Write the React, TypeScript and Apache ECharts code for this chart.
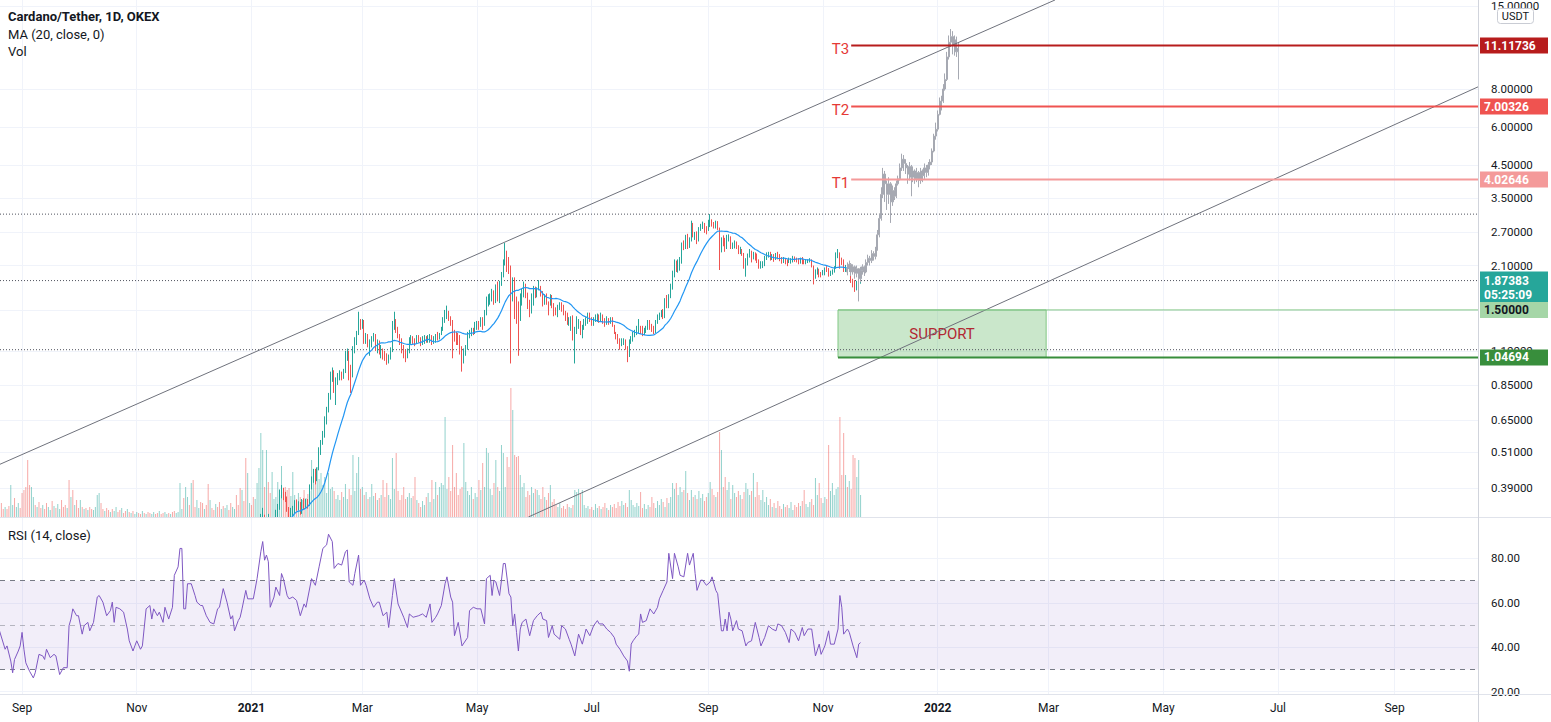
import { useEffect, useRef } from "react";
import * as echarts from "echarts";

// ---------- time frame (day index 0 = 2020-08-20) ----------
const START = Date.UTC(2020, 7, 20);
const DAY = 86400000;
const AXIS_FIRST_DAY = 0.27;
const AXIS_LAST_DAY = 786.4;
const CANDLE_START = 134; // 2021-01-01
const PRICE_BOTTOM = 0.3125;
const PRICE_TOP = 15.7;
const RSI_BOTTOM = 18.5;
const RSI_TOP = 98.2;
const VOLUME_AXIS_MAX = 517;

// ---------- OHLC (daily, 2021-01-01 .. 2021-11-21), open = previous close ----------
const firstOpen = 0.184;
const closes = [
  0.181,0.175,0.205,0.225,0.258,0.309,0.316,0.299,0.306,0.295,0.261,0.282,0.306,0.325,0.339,0.376,0.380,0.371,0.360,0.333,0.297,0.327,0.330,0.349,0.335,0.348,0.325,0.352,0.344,0.350,0.345,
  0.392,0.415,0.440,0.425,0.445,0.510,0.545,0.580,0.650,0.700,0.770,0.900,0.935,0.860,0.870,0.900,0.930,0.905,0.940,1.060,1.100,0.960,0.930,1.120,1.190,1.260,1.380,1.330,
  1.370,1.190,1.230,1.150,1.170,1.200,1.240,1.120,1.180,1.100,1.110,1.070,1.060,1.040,1.050,1.100,1.350,1.390,1.300,1.240,1.190,1.120,1.080,1.070,1.100,1.200,1.210,1.190,1.180,1.220,1.200,
  1.180,1.190,1.210,1.200,1.210,1.220,1.180,1.200,1.230,1.220,1.250,1.290,1.380,1.450,1.470,1.420,1.370,1.270,1.240,1.210,1.200,1.110,1.060,1.090,1.130,1.250,1.260,1.280,1.270,1.350,
  1.350,1.330,1.390,1.350,1.460,1.610,1.610,1.640,1.710,1.590,1.780,1.690,1.820,1.950,2.150,2.300,2.080,2.060,1.660,1.850,1.560,1.550,1.400,1.620,1.680,1.790,1.690,1.540,1.510,1.610,1.770,
  1.710,1.750,1.790,1.690,1.590,1.650,1.590,1.580,1.660,1.540,1.500,1.490,1.530,1.550,1.530,1.460,1.440,1.380,1.380,1.410,1.210,1.290,1.360,1.360,1.260,1.320,1.370,1.390,1.450,1.390,
  1.370,1.400,1.410,1.440,1.390,1.430,1.390,1.360,1.390,1.370,1.400,1.330,1.260,1.230,1.180,1.160,1.180,1.180,1.130,1.060,1.190,1.200,1.240,1.260,1.310,1.310,1.300,1.280,1.280,1.310,1.370,
  1.320,1.310,1.270,1.380,1.430,1.440,1.480,1.430,1.630,1.560,1.660,1.790,2.000,2.140,2.080,2.080,2.170,2.480,2.440,2.630,2.460,2.550,2.880,2.650,2.670,2.560,2.780,2.820,2.870,2.760,2.750,
  2.850,2.940,2.900,2.830,2.890,2.790,2.440,2.540,2.530,2.400,2.580,2.600,2.440,2.450,2.480,2.410,2.350,2.350,2.300,2.100,2.110,2.260,2.320,2.240,2.270,2.260,2.170,2.080,2.100,2.120,
  2.230,2.280,2.290,2.240,2.270,2.220,2.270,2.240,2.230,2.180,2.190,2.170,2.150,2.180,2.180,2.210,2.200,2.190,2.150,2.200,2.160,2.140,2.160,2.180,2.190,2.090,1.940,1.980,2.020,1.970,1.960,
  1.990,2.050,2.030,1.960,1.990,2.000,2.060,2.290,2.290,2.210,2.170,2.050,2.070,2.050,2.050,1.870,1.850,1.790,1.820,1.840,1.87383,
];
const highs = [
  0.185,0.183,0.210,0.235,0.262,0.320,0.335,0.318,0.312,0.320,0.296,0.290,0.310,0.330,0.345,0.385,0.398,0.390,0.378,0.365,0.337,0.335,0.340,0.355,0.356,0.352,0.350,0.358,0.360,0.358,0.358,
  0.400,0.425,0.450,0.450,0.455,0.530,0.560,0.600,0.670,0.720,0.800,0.940,0.970,0.950,0.900,0.930,0.950,0.940,0.960,1.100,1.120,1.100,0.990,1.140,1.220,1.280,1.480,1.400,
  1.400,1.390,1.260,1.250,1.200,1.230,1.260,1.250,1.200,1.190,1.150,1.120,1.100,1.080,1.070,1.130,1.380,1.480,1.400,1.320,1.250,1.210,1.150,1.110,1.120,1.220,1.240,1.230,1.210,1.240,1.240,
  1.220,1.230,1.240,1.230,1.240,1.250,1.240,1.230,1.250,1.270,1.260,1.320,1.420,1.500,1.550,1.490,1.430,1.390,1.290,1.270,1.260,1.240,1.140,1.120,1.150,1.270,1.290,1.310,1.310,1.370,
  1.380,1.380,1.420,1.420,1.500,1.660,1.690,1.700,1.760,1.740,1.820,1.860,1.870,2.000,2.200,2.490,2.350,2.240,2.100,1.920,1.920,1.660,1.600,1.700,1.760,1.860,1.830,1.710,1.620,1.700,1.800,
  1.790,1.780,1.880,1.800,1.730,1.690,1.700,1.600,1.690,1.680,1.580,1.530,1.560,1.590,1.590,1.560,1.490,1.470,1.420,1.430,1.440,1.320,1.430,1.400,1.380,1.340,1.400,1.420,1.470,1.470,
  1.420,1.420,1.450,1.460,1.450,1.470,1.450,1.410,1.430,1.410,1.420,1.420,1.340,1.270,1.250,1.210,1.210,1.210,1.200,1.140,1.200,1.230,1.270,1.290,1.330,1.400,1.330,1.330,1.310,1.330,1.390,
  1.390,1.350,1.330,1.390,1.450,1.470,1.500,1.510,1.640,1.680,1.690,1.830,2.020,2.200,2.180,2.200,2.240,2.500,2.540,2.650,2.670,2.600,2.950,2.900,2.710,2.720,2.810,2.880,2.930,2.900,2.830,
  2.970,3.100,2.980,2.920,2.950,2.940,2.800,2.600,2.640,2.590,2.650,2.660,2.620,2.500,2.540,2.520,2.450,2.420,2.380,2.310,2.220,2.300,2.380,2.350,2.330,2.320,2.300,2.200,2.170,2.170,
  2.260,2.320,2.330,2.330,2.290,2.290,2.310,2.330,2.290,2.240,2.240,2.210,2.200,2.230,2.220,2.260,2.250,2.230,2.220,2.230,2.240,2.200,2.190,2.200,2.220,2.200,2.100,2.040,2.070,2.050,2.000,
  2.030,2.070,2.090,2.060,2.020,2.040,2.090,2.320,2.380,2.320,2.230,2.200,2.110,2.100,2.120,2.070,1.900,1.880,1.870,1.880,1.900,
];
const lows = [
  0.171,0.168,0.172,0.196,0.219,0.255,0.292,0.276,0.285,0.274,0.231,0.252,0.270,0.300,0.310,0.330,0.360,0.355,0.350,0.325,0.285,0.290,0.310,0.322,0.328,0.329,0.318,0.320,0.330,0.335,0.333,
  0.340,0.385,0.405,0.400,0.410,0.445,0.500,0.540,0.570,0.630,0.690,0.760,0.870,0.800,0.730,0.850,0.880,0.880,0.890,0.930,1.020,0.880,0.800,0.900,1.080,1.150,1.240,1.290,
  1.300,1.160,1.160,1.130,1.060,1.130,1.180,1.100,1.080,1.070,1.040,1.030,1.020,0.990,1.000,1.030,1.090,1.290,1.260,1.210,1.150,1.080,1.040,1.010,1.040,1.080,1.160,1.160,1.140,1.160,1.170,
  1.140,1.150,1.160,1.170,1.170,1.170,1.150,1.160,1.170,1.190,1.200,1.240,1.280,1.360,1.400,1.380,1.330,1.040,1.180,1.150,1.150,1.070,0.940,1.000,1.060,1.110,1.210,1.230,1.240,1.250,
  1.290,1.290,1.320,1.290,1.330,1.440,1.540,1.560,1.600,1.560,1.580,1.600,1.580,1.800,1.920,2.100,2.000,1.970,1.000,1.600,1.400,1.350,1.060,1.380,1.550,1.650,1.640,1.510,1.420,1.460,1.550,
  1.640,1.650,1.740,1.660,1.540,1.560,1.560,1.440,1.550,1.520,1.430,1.440,1.420,1.500,1.480,1.440,1.380,1.340,1.330,1.280,1.190,1.000,1.250,1.300,1.240,1.210,1.290,1.330,1.350,1.370,
  1.330,1.330,1.370,1.370,1.360,1.370,1.350,1.320,1.340,1.340,1.350,1.320,1.250,1.200,1.160,1.110,1.140,1.150,1.110,1.010,1.050,1.160,1.180,1.220,1.240,1.260,1.250,1.230,1.240,1.260,1.290,
  1.290,1.270,1.250,1.260,1.350,1.390,1.420,1.400,1.410,1.520,1.520,1.640,1.750,1.920,2.000,1.990,2.020,2.130,2.360,2.380,2.380,2.400,2.520,2.600,2.550,2.470,2.520,2.730,2.770,2.690,2.660,
  2.730,2.810,2.820,2.780,2.780,2.750,2.030,2.320,2.430,2.330,2.380,2.520,2.380,2.380,2.390,2.380,2.290,2.290,2.260,2.050,1.930,2.100,2.230,2.150,2.200,2.180,2.140,2.050,2.050,2.060,
  2.090,2.190,2.230,2.180,2.190,2.160,2.190,2.200,2.170,2.130,2.140,2.120,2.090,2.140,2.130,2.150,2.160,2.150,2.120,2.130,2.120,2.120,2.120,2.140,2.150,2.070,1.820,1.900,1.960,1.920,1.920,
  1.950,1.950,2.000,1.930,1.940,1.960,1.990,2.050,2.220,2.050,2.110,2.000,2.000,2.020,2.000,1.840,1.780,1.720,1.740,1.790,1.830,
];

// ---------- volume (daily, 2020-08-20 .. 2021-11-21, millions) ----------
const volumes = [
  9,14,8,10,8,11,32,12,19,10, 14,9,24,27,30,57,32,30,20,12, 10,15,9,12,8,14,10,7,16,11, 9,13,8,17,10,12,9,37,20,27,
  12,17,9,17,10,8,9,7,10,8, 7,10,22,24,14,8,6,9,7,5, 8,6,10,5,7,9,4,6,8,5, 4,6,3,5,4,3,6,4,3,5,
  4,3,5,3,4,6,3,4,5,3, 4,3,5,6,4,5,34,8,19,30, 20,12,34,37,10,17,9,15,14,8, 12,33,17,9,7,13,10,15,8,11,
  9,12,7,14,10,8,22,12,29,27, 16,59,44,14,12,20,18,34,49,84, 67,30,67,35,24,45,18,20,35,22, 51,25,30,27,29,21,45,22,18,24,
  20,17,27,19,23,26,57,40,33,50, 38,44,32,40,24,44,28,30,26,18, 22,17,25,20,33,18,28,22,62,26, 44,60,28,30,22,25,18,20,33,21,
  24,17,19,22,37,20,34,22,18,59, 28,64,26,17,22,30,18,20,24,19, 21,40,17,14,10,16,12,20,24,15, 37,18,35,22,30,34,32,100,28,40,
  26,72,30,44,22,28,30,74,35,26, 22,30,18,24,20,37,27,54,30,69, 64,28,22,34,57,30,26,72,64,30, 60,50,129,107,62,60,61,42,30,34,
  20,26,22,30,24,28,27,22,18,30, 20,17,24,32,15,18,12,10,14,9, 11,8,13,10,9,12,27,25,28,24, 27,12,9,11,8,10,7,13,9,11,
  8,10,14,9,7,12,10,13,9,15, 11,16,12,14,10,27,17,12,10,14, 11,25,9,13,8,12,10,20,14,9, 16,12,18,15,10,19,14,20,34,28,
  34,22,30,25,27,46,24,17,27,20, 22,18,26,19,23,16,20,24,35,28, 22,20,25,85,67,30,40,27,35,18, 32,24,20,26,22,18,25,34,28,22,
  26,44,20,35,22,17,27,15,20,12, 18,10,14,9,16,11,8,13,10,12, 9,15,7,12,10,14,11,16,27,13, 10,15,18,12,39,22,34,19,14,20,
  18,72,26,34,22,28,30,100,42,84, 42,30,36,28,62,59,40,57,22,
];
// direction of the bars before 2021 (u = up / teal, d = down / red)
const earlyVolumeDir =
  "uddudduudu" + "udddddduud" + "uddudduudu" + "duudddudud" + "uddudududd" + "uuuudduddu" + "duudduddud" +
  "uduuddudud" + "duuddudduu" + "dudduuuudu" + "ududduuddu" + "ddudduddud" + "uudduudddu" + "dduu";

// ---------- projected bars pattern (grey), day 451 .. 510 ----------
const patternStart = 451;
const patternFirstOpen = 2.0;
const patternClose = [
  2.05,2.12,2.00,2.08,1.98,2.05,1.90,2.02,2.08,2.00, 2.15,2.22,2.18,2.30,2.25,2.38,2.65,3.00,3.60,4.20,
  3.90,3.60,3.90,3.40,3.70,3.55,3.90,4.05,4.40,4.70, 4.55,4.40,4.20,4.45,4.10,4.30,4.05,4.25,4.00,4.30,
  4.15,4.40,4.25,4.50,4.60,5.00,5.60,5.90,6.60,7.00, 7.30,8.00,8.60,10.2,11.4,11.9,11.2,11.6,10.6,10.9,
];
const patternHigh = [
  2.15,2.18,2.14,2.12,2.10,2.10,2.06,2.08,2.12,2.10, 2.20,2.28,2.26,2.36,2.34,2.42,2.75,3.10,3.80,4.40,
  4.30,4.00,4.10,3.95,3.85,3.80,4.00,4.15,4.55,4.90, 4.85,4.70,4.50,4.60,4.50,4.45,4.35,4.40,4.30,4.40,
  4.35,4.55,4.50,4.60,4.70,5.10,5.70,6.20,6.80,7.50, 7.60,8.30,9.00,10.6,12.0,12.6,12.4,12.0,11.9,11.4,
];
const patternLow = [
  1.95,2.00,1.94,1.96,1.90,1.92,1.60,1.85,1.96,1.94, 1.98,2.10,2.10,2.14,2.18,2.20,2.35,2.60,2.95,3.50,
  3.40,3.20,3.35,2.90,3.30,3.45,3.50,3.85,4.00,4.30, 4.30,4.20,3.90,4.00,3.55,3.95,3.90,3.95,3.80,3.90,
  3.95,4.05,4.10,4.15,4.35,4.50,4.95,5.45,5.80,6.55, 6.80,7.20,7.90,8.50,10.0,11.0,10.4,10.3,10.2,8.60,
];

// ---------- RSI (14, close) [day, value] ----------
const rsiPoints = [
  [0,47.4],[3,39.1],[4,40.6],[6,33.8],[7,28.5],[8,34.5],[10,38.3],[11,40.6],[12,46.7],[13,39.1],[14,33.0],[16,29.2],[18,26.2],[19,28.5],
  [21,36.8],[23,36.1],[24,34.5],[25,39.1],[27,35.3],[29,36.8],[30,36.1],[32,27.7],[34,30.8],[36,30.8],[37,49.7],[38,52.7],[39,57.3],
  [41,54.2],[42,54.2],[44,45.9],[45,49.7],[47,51.2],[48,47.4],[50,51.2],[52,62.6],[53,63.3],[55,60.3],[57,54.2],[59,56.5],[60,60.3],
  [61,51.2],[62,58.0],[64,57.3],[66,55.8],[68,48.2],[69,42.9],[71,38.3],[72,40.6],[73,42.9],[75,39.1],[76,40.6],[78,57.3],[80,58.8],
  [81,52.7],[82,57.3],[84,54.2],[85,55.8],[87,51.2],[88,58.0],[90,52.7],[92,58.0],[93,72.4],[95,76.2],[96,84.5],[97,84.5],[98,57.3],
  [99,57.3],[100,68.6],[102,68.6],[104,63.3],[105,60.3],[107,58.8],[108,58.8],[110,54.2],[112,51.2],[114,50.5],[116,57.3],[117,58.0],
  [119,66.4],[121,60.3],[123,52.7],[124,54.2],[125,47.4],[127,52.0],[128,53.5],[129,57.3],[131,65.6],[132,61.8],[135,61.8],[137,70.9],
  [139,83.0],[140,87.6],[141,79.2],[142,81.5],[143,78.5],[144,58.0],[146,62.6],[147,67.1],[149,63.3],[150,73.2],[151,70.9],[153,63.3],
  [154,61.8],[156,62.6],[158,61.1],[160,54.2],[162,59.5],[163,58.0],[166,70.9],[168,67.9],[170,76.2],[172,84.5],[174,86.1],[175,90.9],
  [177,87.6],[178,75.5],[180,77.7],[182,77.0],[184,83.0],[185,83.8],[186,69.4],[188,67.9],[189,73.2],[191,81.5],[192,67.9],[194,70.2],
  [195,67.9],[197,61.8],[199,58.0],[201,60.3],[202,60.3],[204,54.2],[206,55.8],[207,48.9],[209,63.3],[210,70.9],[212,59.5],[215,53.5],
  [217,48.9],[218,55.0],[220,53.5],[223,54.2],[225,55.0],[227,53.5],[229,59.5],[230,51.2],[232,53.5],[233,55.0],[235,58.8],[237,68.6],
  [238,71.7],[240,62.6],[241,60.3],[242,45.2],[244,51.2],[246,40.6],[249,44.4],[250,56.5],[252,58.0],[254,57.3],[256,57.3],[258,50.5],
  [259,70.9],[261,72.4],[262,63.3],[263,70.2],[264,69.4],[266,63.3],[267,70.2],[268,77.7],[269,77.7],[271,64.1],[272,62.6],[273,49.7],
  [274,55.0],[275,46.7],[276,38.3],[277,48.2],[278,51.2],[280,52.7],[282,45.2],[284,52.0],[286,54.2],[288,55.8],[289,52.7],[291,52.0],
  [292,44.4],[294,49.7],[295,45.9],[298,43.6],[299,49.7],[301,48.2],[303,43.6],[304,41.4],[306,36.1],[308,45.9],[310,41.4],[312,48.2],
  [314,45.2],[316,49.7],[318,52.0],[319,50.5],[321,50.5],[323,48.2],[325,46.7],[327,44.4],[328,41.4],[330,39.1],[332,36.1],[334,33.8],
  [335,29.2],[336,41.4],[337,42.9],[339,45.2],[340,45.9],[341,55.0],[342,51.2],[344,52.0],[346,57.3],[348,55.0],[350,58.0],[351,61.8],
  [353,65.6],[355,69.4],[356,82.3],[358,70.9],[359,82.3],[361,76.2],[362,72.4],[364,71.7],[366,82.3],[367,77.0],[369,82.3],[370,73.2],
  [371,65.6],[373,70.2],[374,70.2],[376,67.9],[378,69.4],[379,71.7],[381,65.6],[382,64.1],[384,47.4],[385,47.4],[386,52.7],[387,47.4],
  [388,55.8],[389,52.7],[390,47.4],[392,52.0],[393,48.2],[395,47.4],[397,40.6],[398,42.1],[400,42.9],[402,51.2],[404,44.4],[405,40.6],
  [407,44.4],[409,49.7],[411,48.2],[413,47.4],[414,50.5],[416,49.7],[418,46.7],[420,42.1],[421,48.2],[423,46.7],[425,42.9],[427,48.9],
  [428,45.2],[430,48.2],[432,48.2],[434,36.1],[436,41.4],[437,36.8],[439,40.6],[441,47.4],[442,41.4],[444,41.4],[446,48.2],[447,63.3],
  [448,58.0],[449,45.9],[451,48.2],[452,46.7],[454,40.6],[456,35.3],[457,41.4],[458,42.1],
];

// ---------- ticks ----------
// grid lines at every price tick; 1.50000 is covered by the support price label, so it carries no axis text
const priceTicks = [0.39, 0.51, 0.65, 0.85, 1.1, 1.5, 2.1, 2.7, 3.5, 4.5, 6, 8, 15];
const priceLabelTicks = [0.39, 0.51, 0.65, 0.85, 1.1, 2.1, 2.7, 3.5, 4.5, 6, 8, 15];
const rsiTicks = [20, 40, 60, 80];
const rsiLevels = [70, 50, 30];
const monthTicks = [
  [2020, 8], [2020, 10], [2021, 0], [2021, 2], [2021, 4], [2021, 6], [2021, 8], [2021, 10],
  [2022, 0], [2022, 2], [2022, 4], [2022, 6], [2022, 8],
];
const MONTH_NAMES = ["Jan", "Feb", "Mar", "Apr", "May", "Jun", "Jul", "Aug", "Sep", "Oct", "Nov", "Dec"];

// ---------- drawings ----------
const targetNames = ["T3", "T2", "T1"];
const targetPrices = [11.11736, 7.00326, 4.02646];
const targetStartDay = 453;
const supportTop = 1.5;
const supportBottom = 1.04694;
const supportStartDay = 446;
const supportEndDay = 556.7;
const dottedPrices = [3.1, 1.87383, 1.11];
const lastPrice = 1.87383;
const barCountdown = "05:25:09";
const upperTrendDays = [0.27, 561.4];
const upperTrendPrices = [0.466, 15.7];
const lowerTrendDays = [281.3, 786.4];
const lowerTrendPrices = [0.3125, 8.13];

const FONT = "Roboto, 'Noto Sans', sans-serif";
const UP = "#26a69a";
const DOWN = "#ef5350";

const ln = Math.log;
const dayOfDate = (y: number, m: number) => (Date.UTC(y, m, 1) - START) / DAY;

function buildOption() {
  const lnLo = ln(PRICE_BOTTOM);
  const lnHi = ln(PRICE_TOP);
  // candles are clipped to the price pane (same effect as the pane edge cutting them)
  const clampLn = (p: number) => Math.min(lnHi, Math.max(lnLo, ln(p)));

  const opens = closes.map((c, k) => (k === 0 ? firstOpen : closes[k - 1]));
  const candleData: any[] = [];
  closes.forEach((c, k) => {
    const o = opens[k];
    const h = Math.max(highs[k], o, c);
    const l = Math.min(lows[k], o, c);
    if (h <= PRICE_BOTTOM) return; // entirely below the visible pane
    candleData.push([CANDLE_START + k, clampLn(o), clampLn(c), clampLn(l), clampLn(h)]);
  });

  const maData: any[] = [];
  for (let k = 19; k < closes.length; k++) {
    let s = 0;
    for (let j = k - 19; j <= k; j++) s += closes[j];
    maData.push([CANDLE_START + k, ln(s / 20)]);
  }

  const volData = volumes.map((v, i) => {
    let up: boolean;
    if (i < CANDLE_START) up = earlyVolumeDir[i] !== "d";
    else {
      const k = i - CANDLE_START;
      up = closes[k] >= opens[k];
    }
    return { value: [i, v], itemStyle: { color: up ? "rgba(38,166,154,0.5)" : "rgba(239,83,80,0.5)" } };
  });

  const patternData = patternClose.map((c, k) => {
    const o = k === 0 ? patternFirstOpen : patternClose[k - 1];
    const h = Math.max(patternHigh[k], o, c);
    const l = Math.min(patternLow[k], o, c);
    return [patternStart + k, ln(o), ln(c), ln(l), ln(h)];
  });

  const rsiData = rsiPoints.map(([d, v]) => [d, v]);

  const monthDays = monthTicks.map(([y, m]) => dayOfDate(y, m));
  const priceTickLn = priceTicks.map((p) => ln(p));
  const priceLabelLn = priceLabelTicks.map((p) => ln(p));
  const xMin = AXIS_FIRST_DAY;
  const xMax = AXIS_LAST_DAY;

  const priceLabel = (bg: string, fg: string, text: string, extra: any = {}) => ({
    show: true,
    position: "right",
    distance: 2,
    formatter: text,
    backgroundColor: bg,
    color: fg,
    fontSize: 12,
    fontWeight: "bold",
    fontFamily: FONT,
    lineHeight: 14,
    padding: [1, 4, 1, 4],
    width: 60,
    ...extra,
  });

  const levelSeries = (
    price: number,
    startDay: number,
    lineColor: string,
    lineWidth: number,
    labelBg: string,
    labelFg: string,
    name?: string
  ) => ({
    type: "line",
    xAxisIndex: 0,
    yAxisIndex: 0,
    silent: true,
    clip: false,
    symbol: "circle",
    symbolSize: 0,
    showSymbol: true,
    z: 9,
    lineStyle: { color: lineColor, width: lineWidth },
    itemStyle: { color: lineColor },
    data: [
      {
        value: [startDay, ln(price)],
        label: name
          ? { show: true, position: "left", distance: 2, offset: [0, 3], formatter: name, color: "#e53935", fontSize: 15, fontFamily: FONT }
          : { show: false },
      },
      { value: [xMax, ln(price)], label: priceLabel(labelBg, labelFg, price.toFixed(5)) },
    ],
  });

  const targetColors = [
    { line: "#b71c1c", bg: "#b71c1c" },
    { line: "#ef5350", bg: "#ef5350" },
    { line: "#f49a9a", bg: "#f49a9a" },
  ];

  const series: any[] = [
    {
      type: "bar",
      xAxisIndex: 0,
      yAxisIndex: 1,
      data: volData,
      barWidth: 1,
      clip: true,
      silent: true,
      z: 2,
    },
    {
      type: "candlestick",
      xAxisIndex: 0,
      yAxisIndex: 0,
      data: candleData,
      barWidth: 1,
      clip: true,
      silent: true,
      z: 5,
      itemStyle: { color: UP, color0: DOWN, borderColor: UP, borderColor0: DOWN, borderWidth: 1 },
    },
    {
      type: "line",
      xAxisIndex: 0,
      yAxisIndex: 0,
      data: maData,
      showSymbol: false,
      clip: true,
      silent: true,
      z: 6,
      lineStyle: { color: "#2196f3", width: 1.2 },
    },
    {
      type: "candlestick",
      xAxisIndex: 0,
      yAxisIndex: 0,
      data: patternData,
      barWidth: 1.5,
      clip: true,
      silent: true,
      z: 7,
      itemStyle: { color: "#d6d8de", color0: "#d6d8de", borderColor: "#a6a9b2", borderColor0: "#a6a9b2", borderWidth: 1 },
    },
    {
      type: "line",
      xAxisIndex: 0,
      yAxisIndex: 0,
      silent: true,
      showSymbol: false,
      z: 8,
      data: upperTrendDays.map((d, k) => [d, ln(upperTrendPrices[k])]),
      lineStyle: { color: "#6f727c", width: 1 },
    },
    {
      type: "line",
      xAxisIndex: 0,
      yAxisIndex: 0,
      silent: true,
      showSymbol: false,
      z: 8,
      data: lowerTrendDays.map((d, k) => [d, ln(lowerTrendPrices[k])]),
      lineStyle: { color: "#6f727c", width: 1 },
    },
    ...dottedPrices.map((p) => ({
      type: "line",
      xAxisIndex: 0,
      yAxisIndex: 0,
      silent: true,
      clip: false,
      symbol: "circle",
      symbolSize: 0,
      showSymbol: true,
      z: 4,
      lineStyle: { color: "#50535e", width: 1, type: [1, 2] },
      itemStyle: { color: "#50535e" },
      data: [
        { value: [xMin, ln(p)], label: { show: false } },
        {
          value: [xMax, ln(p)],
          label:
            p === lastPrice
              ? priceLabel(UP, "#ffffff", lastPrice.toFixed(5) + "\n" + barCountdown, { offset: [0, 7], lineHeight: 14, padding: [2, 4, 2, 4] })
              : { show: false },
        },
      ],
    })),
    ...targetPrices.map((p, k) =>
      levelSeries(p, targetStartDay, targetColors[k].line, 2, targetColors[k].bg, "#ffffff", targetNames[k])
    ),
    {
      ...levelSeries(supportTop, supportStartDay, "#81c784", 1, "#a5d6a7", "#131722"),
      markArea: {
        silent: true,
        itemStyle: { color: "rgba(102,187,106,0.35)", borderColor: "#81c784", borderWidth: 1 },
        label: { show: true, position: "inside", color: "#b22833", fontSize: 15, fontFamily: FONT },
        data: [
          [
            { name: "SUPPORT", coord: [supportStartDay, ln(supportTop)] },
            { coord: [supportEndDay, ln(supportBottom)] },
          ],
        ],
      },
    },
    levelSeries(supportBottom, supportStartDay, "#388e3c", 2, "#388e3c", "#ffffff"),
    {
      type: "line",
      xAxisIndex: 1,
      yAxisIndex: 2,
      data: rsiData,
      showSymbol: false,
      clip: true,
      silent: true,
      z: 5,
      lineStyle: { color: "#7e57c2", width: 1 },
      markArea: {
        silent: true,
        itemStyle: { color: "rgba(126,87,194,0.1)" },
        data: [[{ yAxis: rsiLevels[2] }, { yAxis: rsiLevels[0] }]],
      },
      markLine: {
        silent: true,
        symbol: "none",
        label: { show: false },
        data: rsiLevels.map((v) => ({
          yAxis: v,
          lineStyle: { color: v === 50 ? "rgba(120,123,134,0.5)" : "#787b86", type: [5, 5], width: 1 },
        })),
      },
    },
  ];

  const xAxisBase = {
    type: "value",
    min: xMin,
    max: xMax,
    axisLine: { show: false },
    axisTick: { show: false, customValues: monthDays },
    splitLine: { show: true, lineStyle: { color: "#f0f3fa", width: 1 } },
  };

  return {
    animation: false,
    backgroundColor: "#ffffff",
    textStyle: { fontFamily: FONT },
    grid: [
      { left: 0, right: 73, top: 0, height: 517 },
      { left: 0, right: 73, top: 518, height: 177 },
    ],
    xAxis: [
      { ...xAxisBase, gridIndex: 0, axisLabel: { show: false, customValues: monthDays } },
      {
        ...xAxisBase,
        gridIndex: 1,
        axisLabel: {
          show: true,
          customValues: monthDays,
          margin: 7,
          color: "#131722",
          fontSize: 12,
          fontFamily: FONT,
          formatter: (v: number) => {
            const d = new Date(START + v * DAY);
            const m = d.getUTCMonth();
            return m === 0 ? "{y|" + d.getUTCFullYear() + "}" : MONTH_NAMES[m];
          },
          rich: { y: { fontWeight: "bold", color: "#131722", fontSize: 12, fontFamily: FONT } },
        },
      },
    ],
    yAxis: [
      {
        type: "value",
        gridIndex: 0,
        position: "right",
        min: lnLo,
        max: lnHi,
        axisLine: { show: false },
        axisTick: { show: false, customValues: priceTickLn },
        axisLabel: {
          customValues: priceLabelLn,
          formatter: (v: number) => Math.exp(v).toFixed(5),
          color: "#131722",
          fontSize: 11.5,
          fontFamily: FONT,
          margin: 13,
        },
        splitLine: { show: true, lineStyle: { color: "#f0f3fa" } },
      },
      { type: "value", gridIndex: 0, min: 0, max: VOLUME_AXIS_MAX, show: false, splitLine: { show: false } },
      {
        type: "value",
        gridIndex: 1,
        position: "right",
        min: RSI_BOTTOM,
        max: RSI_TOP,
        axisLine: { show: false },
        axisTick: { show: false, customValues: rsiTicks },
        axisLabel: {
          customValues: rsiTicks,
          formatter: (v: number) => v.toFixed(2),
          color: "#131722",
          fontSize: 11.5,
          fontFamily: FONT,
          margin: 13,
        },
        splitLine: { show: true, lineStyle: { color: "#f0f3fa" } },
      },
    ],
    graphic: [
      { type: "line", silent: true, z: 50, shape: { x1: 0, y1: 517.5, x2: 1551, y2: 517.5 }, style: { stroke: "#e0e3eb", lineWidth: 1 } },
      { type: "line", silent: true, z: 50, shape: { x1: 0, y1: 694.5, x2: 1551, y2: 694.5 }, style: { stroke: "#e0e3eb", lineWidth: 1 } },
      { type: "line", silent: true, z: 50, shape: { x1: 1478.5, y1: 0, x2: 1478.5, y2: 722 }, style: { stroke: "#d1d4dc", lineWidth: 1 } },
      {
        type: "text", silent: true, z: 60, x: 8, y: 16,
        style: { text: "Cardano/Tether, 1D, OKEX", fill: "#131722", fontSize: 13, fontWeight: "bold", fontFamily: FONT, verticalAlign: "middle" },
      },
      {
        type: "text", silent: true, z: 60, x: 8, y: 34,
        style: { text: "MA (20, close, 0)", fill: "#131722", fontSize: 13, fontFamily: FONT, verticalAlign: "middle" },
      },
      {
        type: "text", silent: true, z: 60, x: 8, y: 51,
        style: { text: "Vol", fill: "#131722", fontSize: 13, fontFamily: FONT, verticalAlign: "middle" },
      },
      {
        type: "text", silent: true, z: 60, x: 8, y: 535,
        style: { text: "RSI (14, close)", fill: "#131722", fontSize: 13, fontFamily: FONT, verticalAlign: "middle" },
      },
      {
        type: "rect", silent: true, z: 60,
        shape: { x: 1497.5, y: 8.5, width: 36, height: 15, r: 3 },
        style: { fill: "#ffffff", stroke: "#c9ccd4", lineWidth: 1 },
      },
      {
        type: "text", silent: true, z: 61, x: 1515.5, y: 16.5,
        style: { text: "USDT", fill: "#131722", fontSize: 11, fontFamily: FONT, align: "center", verticalAlign: "middle" },
      },
    ],
    series,
  };
}

export default function App() {
  const ref = useRef<HTMLDivElement>(null);
  useEffect(() => {
    const chart = echarts.init(ref.current as HTMLDivElement, null, { renderer: "svg" });
    chart.setOption(buildOption() as any);
    return () => chart.dispose();
  }, []);
  return (
    <div
      ref={ref}
      style={{ position: "fixed", left: 0, top: 0, width: 1551, height: 722, background: "#ffffff" }}
    />
  );
}
